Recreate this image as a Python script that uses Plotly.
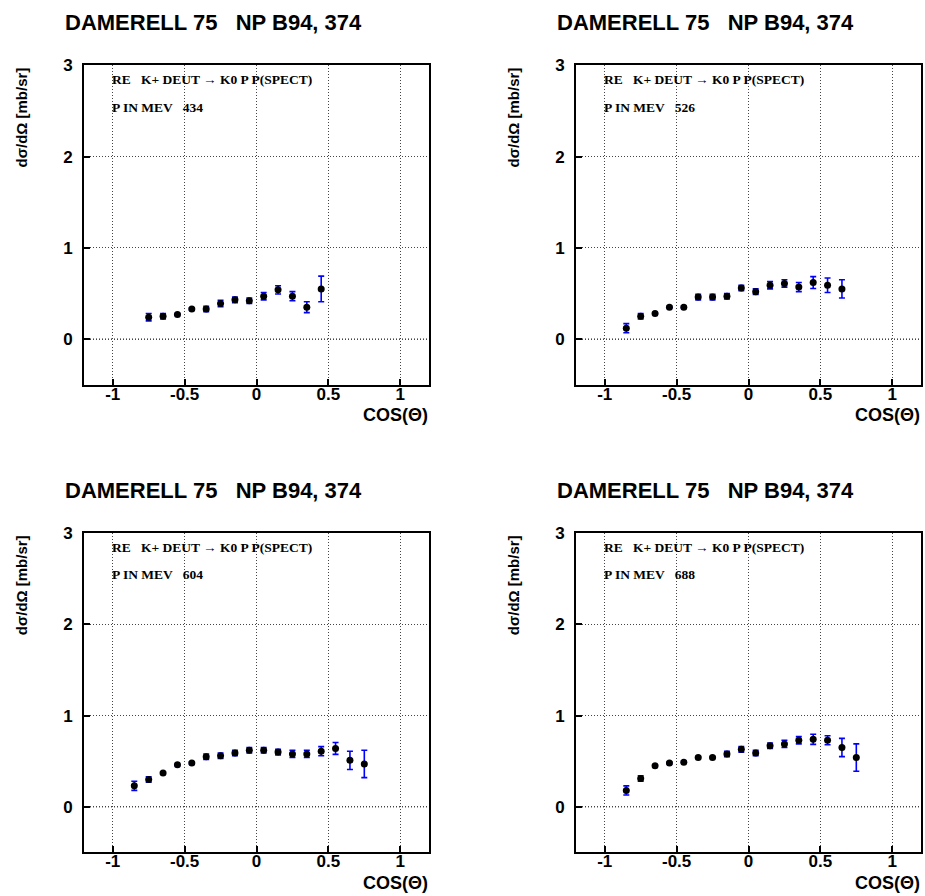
import plotly.graph_objects as go

# Angular distributions, K+ d -> K0 p p(spectator), one list set per beam momentum
momenta = [434, 526, 604, 688]

cos_434 = [-0.75, -0.65, -0.55, -0.45, -0.35, -0.25, -0.15, -0.05, 0.05, 0.15, 0.25, 0.35, 0.45]
dsig_434 = [0.24, 0.25, 0.27, 0.33, 0.33, 0.39, 0.43, 0.42, 0.47, 0.54, 0.47, 0.35, 0.55]
err_434 = [0.04, 0.03, 0.01, 0.01, 0.03, 0.035, 0.03, 0.03, 0.04, 0.045, 0.05, 0.06, 0.14]

cos_526 = [-0.85, -0.75, -0.65, -0.55, -0.45, -0.35, -0.25, -0.15, -0.05, 0.05, 0.15, 0.25,
           0.35, 0.45, 0.55, 0.65]
dsig_526 = [0.12, 0.25, 0.28, 0.35, 0.35, 0.46, 0.46, 0.47, 0.56, 0.52, 0.59, 0.61,
            0.57, 0.62, 0.59, 0.55]
err_526 = [0.05, 0.03, 0.01, 0.01, 0.01, 0.03, 0.03, 0.03, 0.03, 0.03, 0.04, 0.04,
           0.05, 0.065, 0.08, 0.10]

cos_604 = [-0.85, -0.75, -0.65, -0.55, -0.45, -0.35, -0.25, -0.15, -0.05, 0.05, 0.15, 0.25,
           0.35, 0.45, 0.55, 0.65, 0.75]
dsig_604 = [0.23, 0.30, 0.37, 0.46, 0.48, 0.55, 0.56, 0.59, 0.62, 0.62, 0.60, 0.58,
            0.58, 0.61, 0.64, 0.51, 0.47]
err_604 = [0.05, 0.03, 0.01, 0.01, 0.01, 0.03, 0.03, 0.03, 0.03, 0.03, 0.03, 0.04,
           0.04, 0.05, 0.065, 0.10, 0.15]

cos_688 = [-0.85, -0.75, -0.65, -0.55, -0.45, -0.35, -0.25, -0.15, -0.05, 0.05, 0.15, 0.25,
           0.35, 0.45, 0.55, 0.65, 0.75]
dsig_688 = [0.18, 0.31, 0.45, 0.48, 0.49, 0.54, 0.54, 0.58, 0.63, 0.59, 0.67, 0.69,
            0.73, 0.74, 0.73, 0.65, 0.54]
err_688 = [0.05, 0.03, 0.01, 0.01, 0.01, 0.01, 0.01, 0.03, 0.03, 0.03, 0.03, 0.04,
           0.04, 0.055, 0.05, 0.10, 0.15]

x_ticks = [-1, -0.5, 0, 0.5, 1]
x_tick_text = ["-1", "-0.5", "0", "0.5", "1"]
y_ticks = [0, 1, 2, 3]
y_tick_text = ["0", "1", "2", "3"]

panel_title = "DAMERELL 75   NP B94, 374"
reaction_text = "RE   K+ DEUT \u2192 K0 P P(SPECT)"
y_title = "d\u03c3/d\u03a9 [mb/sr]"
x_title = "COS(\u0398)"

series = [
    (cos_434, dsig_434, err_434),
    (cos_526, dsig_526, err_526),
    (cos_604, dsig_604, err_604),
    (cos_688, dsig_688, err_688),
]

W, H = 925, 896
SANS = "Liberation Sans, Arial, Helvetica, sans-serif"
SERIF = "Liberation Serif, Times New Roman, serif"
X_RANGE = [-1.2, 1.2]
Y_RANGE = [-0.5, 3]


def px_x(v):
    return v / W


def px_y(v):
    return 1 - v / H


# frame pixel boxes (left, right, top, bottom) for the 2x2 grid
dx, dy = 492, 472.5
base = (84, 429, 57, 379.5)
boxes = []
for r in range(2):
    for c in range(2):
        boxes.append((base[0] + c * dx, base[1] + c * dx, base[2] + r * dy, base[3] + r * dy))

fig = go.Figure()
annotations = []
shapes = []
tick_font = dict(family=SANS, size=17, color="black", weight="bold")

for i, ((xs, ys, es), p, box) in enumerate(zip(series, momenta, boxes)):
    n = i + 1
    xa = "x" if n == 1 else f"x{n}"
    ya = "y" if n == 1 else f"y{n}"
    xl = f"x{n + 4}"
    left, right, top, bottom = box

    fig.add_trace(go.Scatter(
        x=xs, y=ys, mode="markers", xaxis=xa, yaxis=ya, showlegend=False,
        marker=dict(color="black", size=7, symbol="circle"),
        error_y=dict(type="data", array=es, visible=True, color="#0000ff",
                     thickness=1.6, width=3),
    ))
    # empty trace that ties the label axis to this panel so it gets drawn
    fig.add_trace(go.Scatter(x=[], y=[], xaxis=xl, yaxis=ya, showlegend=False,
                             hoverinfo="skip"))

    axis_common = dict(
        showline=True, linecolor="black", linewidth=2, mirror=True,
        ticks="inside", ticklen=6, tickwidth=1.5, tickcolor="black",
        showgrid=True, gridcolor="#444444", griddash="1px,2px", gridwidth=1,
        zeroline=False, tickfont=tick_font,
    )
    fig.layout[f"xaxis{'' if n == 1 else n}"] = dict(
        axis_common, domain=[px_x(left), px_x(right)], range=X_RANGE,
        tickvals=x_ticks, showticklabels=False, anchor=ya,
    )
    fig.layout[f"yaxis{'' if n == 1 else n}"] = dict(
        axis_common, domain=[px_y(bottom), px_y(top)], range=Y_RANGE,
        tickvals=y_ticks, ticktext=y_tick_text, anchor=xa, ticklabelstandoff=6,
    )
    # companion x axis carrying the tick labels, set snug under the frame
    fig.layout[f"xaxis{n + 4}"] = dict(
        overlaying=xa, anchor="free", position=px_y(bottom - 3),
        domain=[px_x(left), px_x(right)], range=X_RANGE,
        tickvals=x_ticks, ticktext=x_tick_text, tickfont=tick_font,
        showline=False, ticks="", showgrid=False, zeroline=False, side="bottom",
    )

    # darker dotted line along zero
    shapes.append(dict(type="line", xref=f"{xa} domain", yref=ya, x0=0, x1=1, y0=0, y1=0,
                       line=dict(color="black", width=1, dash="1px,2px"), layer="below"))

    # panel heading
    annotations.append(dict(
        text=panel_title, x=px_x(left - 21), y=px_y(top - 43), xref="paper", yref="paper",
        xanchor="left", yanchor="middle", showarrow=False,
        font=dict(family=SANS, size=22, color="black", weight="bold"),
    ))
    # reaction and beam momentum labels
    annotations.append(dict(
        text=reaction_text, x=px_x(left + 26), y=px_y(top + 14), xref="paper", yref="paper",
        xanchor="left", yanchor="middle", showarrow=False,
        font=dict(family=SERIF, size=13.5, color="black", weight="bold"),
    ))
    annotations.append(dict(
        text=f"P IN MEV   {p}", x=px_x(left + 26), y=px_y(top + 42), xref="paper", yref="paper",
        xanchor="left", yanchor="middle", showarrow=False,
        font=dict(family=SERIF, size=13.5, color="black", weight="bold"),
    ))
    # axis titles
    annotations.append(dict(
        text=y_title, x=px_x(left - 63), y=px_y(top), xref="paper", yref="paper",
        xanchor="center", yanchor="top", textangle=-90, showarrow=False,
        font=dict(family=SANS, size=15, color="black", weight="bold"),
    ))
    annotations.append(dict(
        text=x_title, x=px_x(right + 1), y=px_y(bottom + 31), xref="paper", yref="paper",
        xanchor="right", yanchor="middle", showarrow=False,
        font=dict(family=SANS, size=18, color="black", weight="bold"),
    ))

fig.update_layout(
    width=W, height=H, margin=dict(l=0, r=0, t=0, b=0),
    paper_bgcolor="white", plot_bgcolor="white",
    annotations=annotations, shapes=shapes,
)

fig.write_html("out.html")
